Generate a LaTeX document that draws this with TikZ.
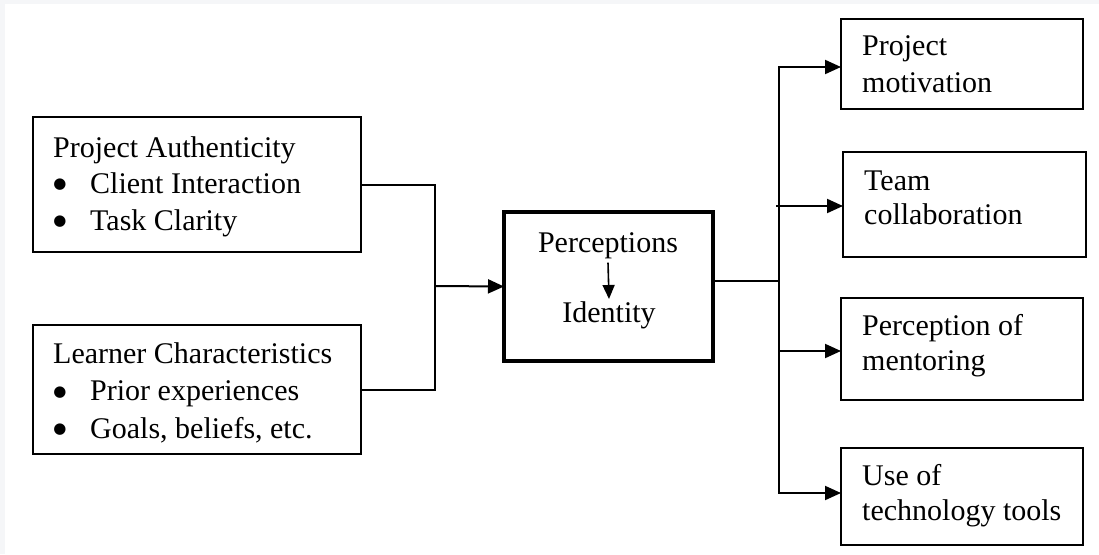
\documentclass[tikz,border=0pt]{standalone}
\usepackage{fontspec}
\setmainfont{Liberation Serif}
\newfontfamily\symfont{DejaVu Sans}
\usetikzlibrary{arrows.meta,calc}
\definecolor{bgstrip}{HTML}{F5F6F8}
\begin{document}
\begin{tikzpicture}[x=1pt,y=-1pt,
  box/.style={draw, line width=2pt, inner sep=0pt, outer sep=0pt, rectangle},
  txt/.style={anchor=base west, inner sep=0pt, font=\fontsize{30}{36}\selectfont},
  ctxt/.style={txt, anchor=base},
  bul/.style={anchor=center, inner sep=0pt, font=\symfont\fontsize{15}{15}\selectfont},
  conn/.style={line width=2pt},
  arr/.style={conn, -{Triangle[length=16pt,width=14pt]}},
]
\useasboundingbox (0,0) rectangle (1099,554);
\fill[bgstrip] (0,0) rectangle (1099,554);
\fill[white] (5,4) rectangle (1099,554);

% boxes
\node[box, minimum width=328pt, minimum height=135pt] (A) at (197,184.5) {};
\node[box, minimum width=328pt, minimum height=129pt] (B) at (197,389.5) {};
\node[box, line width=4.5pt, minimum width=209pt, minimum height=149pt] (C) at (608.5,286.5) {};
\node[box, minimum width=242pt, minimum height=90pt] (R1) at (962,64) {};
\node[box, minimum width=243pt, minimum height=105pt] (R2) at (964.5,204.5) {};
\node[box, minimum width=242pt, minimum height=102pt] (R3) at (962,349) {};
\node[box, minimum width=242pt, minimum height=97pt] (R4) at (962,496.5) {};

% left texts
\node[txt] (a0) at (53,157) {Project Authenticity};
\node[bul] (ab1) at (60,185) {●};
\node[txt] (a1) at (90,193) {Client Interaction};
\node[bul] (ab2) at (60,222) {●};
\node[txt] (a2) at (90,230) {Task Clarity};

\node[txt] (b0) at (53,363) {Learner Characteristics};
\node[bul] (bb1) at (60,393) {●};
\node[txt] (b1) at (90,400) {Prior experiences};
\node[bul] (bb2) at (60,430) {●};
\node[txt] (b2) at (90,438) {Goals, beliefs, etc.};

% center texts
\node[ctxt] (perc) at (608,252) {Perceptions};
\node[ctxt] (iden) at (609,322) {Identity};
\draw[line width=1.6pt, -{Triangle[length=14pt,width=12pt]}] ([yshift=-4pt]perc.south) -- ([yshift=2pt]iden.north);

% right texts
\node[txt] (r1a) at (862,55) {Project};
\node[txt] (r1b) at (862,92) {motivation};
\node[txt] (r2a) at (864,190) {Team};
\node[txt] (r2b) at (864,224) {collaboration};
\node[txt] (r3a) at (862,335) {Perception of};
\node[txt] (r3b) at (862,370) {mentoring};
\node[txt] (r4a) at (862,485) {Use of};
\node[txt] (r4b) at (862,520) {technology tools};

% left connectors
\coordinate (jl) at (435,286);
\draw[conn] (A.east) -| (jl) |- (B.east);
\draw[arr] (jl) -- (C.west);

% right connectors
\coordinate (jr) at (779,281);
\coordinate (t1) at (779,67);
\coordinate (t2) at (776,206);
\coordinate (t3) at (779,351);
\coordinate (t4) at (779,493);
\draw[conn] (C.east |- jr) -- (jr);
\draw[arr] (jr) -- (t1) -- (t1 -| R1.west);
\draw[arr] (jr) -- (t4) -- (t4 -| R4.west);
\draw[arr] (t2) -- (t2 -| R2.west);
\draw[arr] (t3) -- (t3 -| R3.west);
\end{tikzpicture}
\end{document}
